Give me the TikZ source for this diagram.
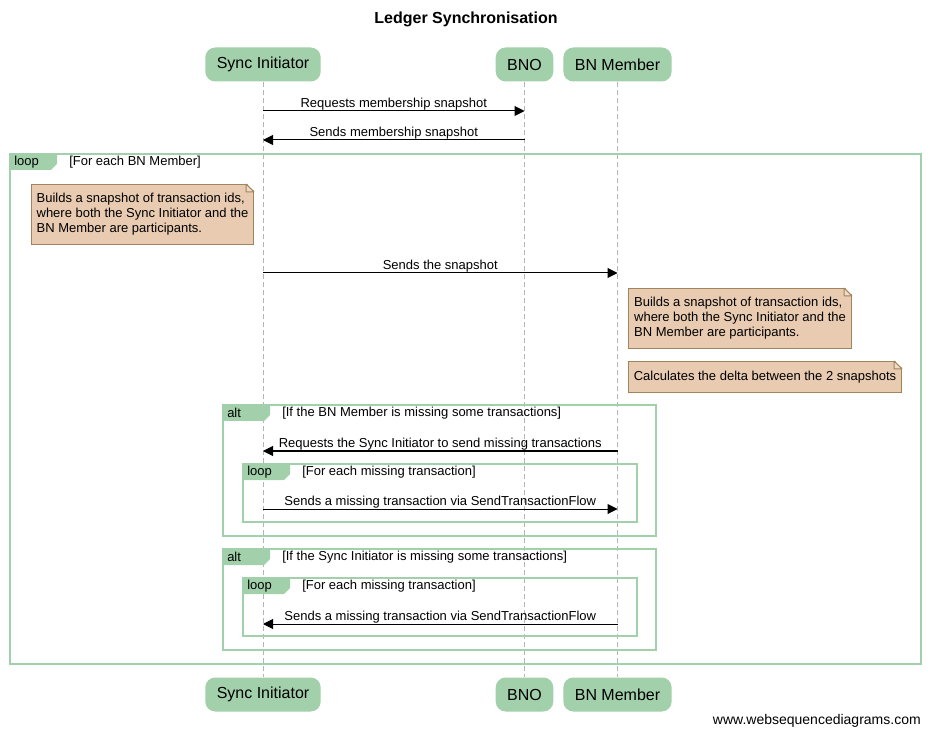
\documentclass[tikz,border=0pt]{standalone}
\usepackage{fontspec}
\setmainfont{Liberation Sans}
\usetikzlibrary{positioning,arrows.meta}

\definecolor{actorgreen}{HTML}{A2D0AB}
\definecolor{framegreen}{HTML}{A2D0AB}
\definecolor{notefill}{HTML}{E8CBB0}
\definecolor{noteline}{HTML}{A0845C}
\definecolor{lifegray}{HTML}{B4B4B4}

\tikzset{
    actor/.style ={
        shape=rectangle,
        rounded corners=7.5pt,
        fill=actorgreen,
        minimum height=25.5pt,
        inner xsep=8.6pt,
        font=\fontsize{12}{14}\selectfont
    },
    msg/.style ={
        line width=0.75pt,
        -{Triangle[length=7.5pt,width=7.5pt]}
    },
    msgtext/.style ={
        font=\fontsize{9.75}{11.25}\selectfont,
        above,
        inner sep=0pt
    },
    lifeline/.style ={
        draw=lifegray,
        line width=0.75pt,
        dash pattern=on 3.75pt off 2.25pt
    },
    frameline/.style ={
        draw=framegreen,
        line width=1.5pt
    },
    tagtext/.style ={
        font=\fontsize{9.75}{11.25}\selectfont,
        anchor=west,
        inner sep=0pt
    },
    note/.style ={
        shape=rectangle,
        fill=notefill,
        draw=noteline,
        line width=0.75pt,
        align=left,
        anchor=north west,
        font=\fontsize{9.75}{11.25}\selectfont
    }
}

% folded corner of a note
\newcommand\notefold[1]{%
    \fill[white] ([xshift=-6pt,yshift=1pt]#1.north east) -- ([xshift=1pt,yshift=1pt]#1.north east)
        -- ([xshift=1pt,yshift=-6pt]#1.north east) -- cycle;
    \draw[noteline, line width=0.75pt, fill=notefill!70!white, line join=bevel]
        ([xshift=-6pt]#1.north east) -- ([yshift=-6pt]#1.north east)
        -- ([xshift=-6pt,yshift=-6pt]#1.north east) -- cycle;
}

% frame: name, x0, y0, x1, y1, kind, guard
\newcommand\sdframe[7]{%
    \draw[frameline] (#2,#3) rectangle (#4,#5);
    \fill[framegreen] (#2,#3) -- (#2+47,#3) -- (#2+47,#3+10) -- (#2+41,#3+16) -- (#2,#3+16) -- cycle;
    \node[tagtext] (#1 tag) at (#2+4,#3+8) {#6};
    \node[tagtext] (#1 guard) at (#2+59,#3+8) {[#7]};
}

\begin{document}
\begin{tikzpicture}[x=0.75pt, y=-0.75pt]
    \useasboundingbox (0,0) rectangle (931,737);

    \node[font=\bfseries\fontsize{12}{14}\selectfont] (title) at (466,19.5) {Ledger Synchronisation};

    % participants
    \node[actor] (si top) at (263,64.5) {Sync Initiator};
    \node[actor] (bno top) at (524.5,64.5) {BNO};
    \node[actor] (bnm top) at (617.5,64.5) {BN Member};
    \node[actor] (si bottom) at (263,694.5) {Sync Initiator};
    \node[actor] (bno bottom) at (524.5,694.5) {BNO};
    \node[actor] (bnm bottom) at (617.5,694.5) {BN Member};

    \draw[lifeline] (si top) -- (si bottom);
    \draw[lifeline] (bno top) -- (bno bottom);
    \draw[lifeline] (bnm top) -- (bnm bottom);

    \draw[msg] (si top |- 0,111) -- (bno top |- 0,111)
        node[msgtext, midway] {Requests membership snapshot};
    \draw[msg] (bno top |- 0,140) -- (si top |- 0,140)
        node[msgtext, midway] {Sends membership snapshot};

    % frames
    \sdframe{outer}{10}{154}{921}{664}{loop}{For each BN Member}
    \sdframe{alt one}{223}{405}{656}{536}{alt}{If the BN Member is missing some transactions}
    \sdframe{loop one}{243}{464}{637}{522}{loop}{For each missing transaction}
    \sdframe{alt two}{223}{549}{656}{650}{alt}{If the Sync Initiator is missing some transactions}
    \sdframe{loop two}{243}{578}{637}{636}{loop}{For each missing transaction}

    % notes
    \node[note, minimum width=166.5pt, minimum height=45pt] (note si) at (31,184)
        {Builds a snapshot of transaction ids,\\where both the Sync Initiator and the\\BN Member are participants.};
    \notefold{note si}
    \node[note, minimum width=167.25pt, minimum height=45pt] (note bnm) at (628,288)
        {Builds a snapshot of transaction ids,\\where both the Sync Initiator and the\\BN Member are participants.};
    \notefold{note bnm}
    \node[note, minimum width=204.75pt, minimum height=23.25pt] (note delta) at (628,361)
        {Calculates the delta between the 2 snapshots};
    \notefold{note delta}

    \draw[msg] (si top |- 0,273) -- (bnm top |- 0,273)
        node[msgtext, midway] {Sends the snapshot};
    \draw[msg] (bnm top |- 0,451) -- (si top |- 0,451)
        node[msgtext, midway] {Requests the Sync Initiator to send missing transactions};
    \draw[msg] (si top |- 0,509) -- (bnm top |- 0,509)
        node[msgtext, midway] {Sends a missing transaction via SendTransactionFlow};
    \draw[msg] (bnm top |- 0,624) -- (si top |- 0,624)
        node[msgtext, midway] {Sends a missing transaction via SendTransactionFlow};

    \node[anchor=east, inner sep=0pt, font=\fontsize{10.5}{12}\selectfont] (footer) at (921,721)
        {www.websequencediagrams.com};
\end{tikzpicture}
\end{document}
